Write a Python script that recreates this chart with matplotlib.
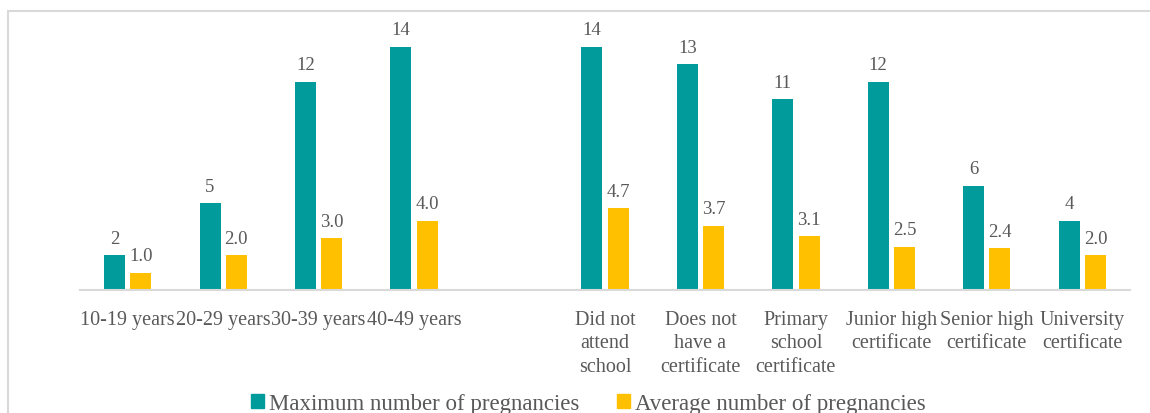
import matplotlib
matplotlib.use("Agg")
import matplotlib.pyplot as plt
from matplotlib.patches import Rectangle, Patch

categories = ["10-19 years", "20-29 years", "30-39 years", "40-49 years", "",
              "Did not\nattend\nschool", "Does not\nhave a\ncertificate",
              "Primary\nschool\ncertificate", "Junior high\ncertificate",
              "Senior high\ncertificate", "University\ncertificate"]
max_preg = [2, 5, 12, 14, None, 14, 13, 11, 12, 6, 4]
avg_preg = [1.0, 2.0, 3.0, 4.0, None, 4.7, 3.7, 3.1, 2.5, 2.4, 2.0]
series_names = ["Maximum number of pregnancies", "Average number of pregnancies"]

TEAL = "#009B9A"
GOLD = "#FFC000"
TXT = "#595959"

plt.rcParams['font.family'] = ['Liberation Serif', 'DejaVu Serif']

fig = plt.figure(figsize=(11.5, 4.14), dpi=100)
W, H = 1150, 414
ax = fig.add_axes([80 / W, 123 / H, 1050 / W, 271 / H])

width = 0.22
off = 0.138
for i, (m, a) in enumerate(zip(max_preg, avg_preg)):
    if m is None:
        continue
    ax.bar(i - off, m, width, color=TEAL)
    ax.bar(i + off, a, width, color=GOLD)
    ax.annotate(f"{m}", (i - off, m), xytext=(0, 6), textcoords="offset points",
                ha="center", va="bottom", color=TXT, fontsize=13.5)
    ax.annotate(f"{a:.1f}", (i + off, a), xytext=(0, 6), textcoords="offset points",
                ha="center", va="bottom", color=TXT, fontsize=13.5)

ax.set_xlim(-0.5, len(categories) - 0.5)
ax.set_ylim(0, 15.6)
ax.set_xticks(range(len(categories)))
ax.set_xticklabels(categories, fontsize=14.5, color=TXT, linespacing=1.3)
ax.tick_params(axis="x", length=0, pad=14.5)
ax.set_yticks([])
for s in ["top", "right", "left"]:
    ax.spines[s].set_visible(False)
ax.spines["bottom"].set_color("#D9D9D9")
ax.spines["bottom"].set_linewidth(1.5)

handles = [Patch(color=TEAL), Patch(color=GOLD)]
fig.legend(handles, series_names, loc="center", bbox_to_anchor=(588.5 / W, 1 - 405 / H),
           ncol=2, frameon=False, fontsize=16.5, handlelength=0.57, handleheight=0.57,
           handletextpad=0.22, columnspacing=1.65, labelcolor=TXT,
           borderpad=0, borderaxespad=0)

fig.add_artist(Rectangle((7.5 / W, -0.1), 1.2, 1.1 - 12.5 / H, transform=fig.transFigure,
                         fill=False, edgecolor="#D9D9D9", linewidth=1.5))

fig.savefig("out.png", dpi=100)
